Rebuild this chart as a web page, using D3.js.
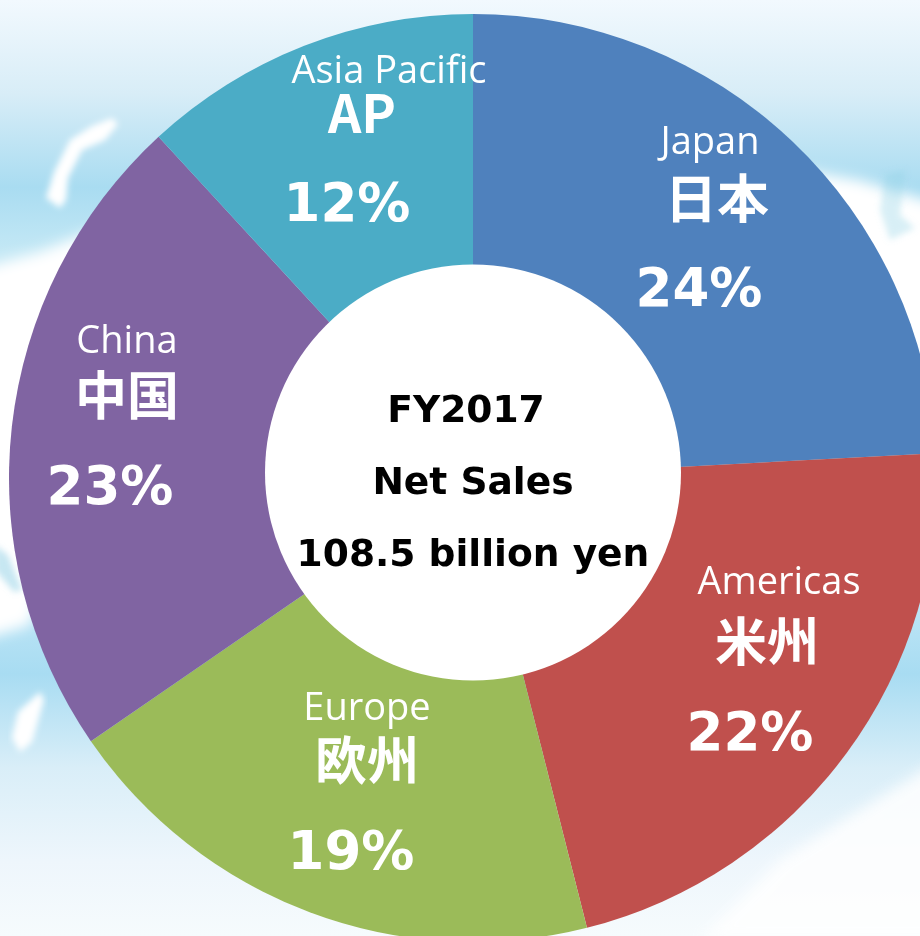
<!DOCTYPE html>
<html>
<head>
<meta charset="utf-8">
<script src="https://cdn.jsdelivr.net/npm/d3@7"></script>
<style>
html, body { margin: 0; padding: 0; background: #fff; }
svg { display: block; }
</style>
</head>
<body>
<div id="chart"></div>
<script>
var regions = ['日本', '米州', '欧州', '中国', 'AP'];
var regionsEn = ['Japan', 'Americas', 'Europe', 'China', 'Asia Pacific'];
// read from the slice edges, the labels show these rounded
var shares = [24.15, 21.9, 19.35, 22.75, 11.85];
var colors = ['#4f81bd', '#c0504d', '#9bbb59', '#8064a2', '#4bacc6'];
var centerLines = ['FY2017', 'Net Sales', '108.5 billion yen'];

// label placement, one row per region: en x/baseline, kanji x/baseline, percent x/baseline
var labelSpots = [
  [710, 154, 717, 218, 699, 306],
  [779, 594, 767, 661, 750, 750],
  [367, 720, 367, 780, 351, 869],
  [127, 353, 127, 415, 110, 504],
  [389, 83, 362, 133, 347, 221]
];
var centerSpots = [[466, 422], [473, 494], [473, 566]];

var width = 920, height = 936;
var cx = 473, cy = 478, outer = 464, inner = 208;

var svg = d3.select('#chart').append('svg')
  .attr('width', width)
  .attr('height', height);

var defs = svg.append('defs');
var sky = defs.append('linearGradient').attr('id', 'sky')
  .attr('x1', 0).attr('y1', 0).attr('x2', 0).attr('y2', 1);
[[0, '#f2f9fe'], [0.1, '#d8edf7'], [0.2, '#a9dcf1'], [0.27, '#c4e8f5'], [0.64, '#bfe6f6'],
 [0.72, '#a8dcf2'], [0.82, '#d9eef8'], [0.92, '#eef6fc'], [1, '#f6fbfd']].forEach(function(s) {
  sky.append('stop').attr('offset', s[0]).attr('stop-color', s[1]);
});
defs.append('filter').attr('id', 'soft').append('feGaussianBlur').attr('stdDeviation', 7);
defs.append('filter').attr('id', 'softer').append('feGaussianBlur').attr('stdDeviation', 3);

// map behind the pie, only a rough impression of the land
svg.append('rect').attr('width', width).attr('height', height).attr('fill', 'url(#sky)');

var land = svg.append('g').attr('fill', '#fff');
land.append('path')
  .attr('filter', 'url(#soft)')
  .attr('d', 'M-20,268 L40,252 L90,232 L160,200 L200,420 L130,600 L40,590 L30,625 L-20,640 Z');
land.append('path')
  .attr('filter', 'url(#soft)')
  .attr('d', 'M800,170 L860,180 L940,205 L940,420 L880,400 Z');
land.append('path')
  .attr('filter', 'url(#soft)')
  .attr('opacity', 0.85)
  .attr('d', 'M700,940 L780,860 L940,760 L940,940 Z');
land.append('path')
  .attr('filter', 'url(#softer)')
  .attr('d', 'M112,118 L118,124 L105,140 L82,150 L68,178 L66,200 L60,208 L46,198 L54,172 L70,140 L92,126 Z');
land.append('path')
  .attr('filter', 'url(#softer)')
  .attr('d', 'M40,692 L44,700 L32,742 L20,752 L12,738 L18,712 Z');

// inlets on the coast
var water = svg.append('g').attr('fill', '#8fd0e6').attr('filter', 'url(#softer)');
water.append('path').attr('opacity', 0.35).attr('d', 'M885,175 L905,170 L900,215 L915,228 L890,240 L880,210 Z');
water.append('path').attr('opacity', 0.5).attr('d', 'M-5,545 L8,555 L22,590 L14,592 L-5,570 Z');

var pie = d3.pie().sort(null).value(function(d) { return d; });
var arc = d3.arc().innerRadius(0).outerRadius(outer);
var arcs = pie(shares);

var g = svg.append('g').attr('transform', 'translate(' + cx + ',' + cy + ')');

g.selectAll('path.slice')
  .data(arcs)
  .enter().append('path')
  .attr('class', 'slice')
  .attr('d', arc)
  .attr('fill', function(d, i) { return colors[i]; });

svg.append('circle')
  .attr('cx', 473)
  .attr('cy', 472.5)
  .attr('r', inner)
  .attr('fill', '#fff');

var labels = svg.selectAll('g.label')
  .data(arcs)
  .enter().append('g')
  .attr('class', 'label')
  .attr('text-anchor', 'middle')
  .attr('fill', '#fff');

labels.append('text')
  .attr('x', function(d, i) { return labelSpots[i][0]; })
  .attr('y', function(d, i) { return labelSpots[i][1]; })
  .attr('font-family', '"Open Sans", "Noto Sans", sans-serif')
  .attr('font-weight', 400)
  .attr('font-size', 38)
  .text(function(d, i) { return regionsEn[i]; });

labels.append('text')
  .attr('x', function(d, i) { return labelSpots[i][2]; })
  .attr('y', function(d, i) { return labelSpots[i][3]; })
  .attr('font-family', '"Noto Sans CJK JP", sans-serif')
  .attr('font-weight', 700)
  .attr('font-size', 52)
  .text(function(d, i) { return regions[i]; });

labels.append('text')
  .attr('x', function(d, i) { return labelSpots[i][4]; })
  .attr('y', function(d, i) { return labelSpots[i][5]; })
  .attr('font-family', '"DejaVu Sans", sans-serif')
  .attr('font-weight', 700)
  .attr('font-size', 53)
  .text(function(d) { return Math.round(d.data) + '%'; });

svg.append('g').selectAll('text')
  .data(centerLines)
  .enter().append('text')
  .attr('x', function(d, i) { return centerSpots[i][0]; })
  .attr('y', function(d, i) { return centerSpots[i][1]; })
  .attr('text-anchor', 'middle')
  .attr('font-family', '"DejaVu Sans", sans-serif')
  .attr('font-weight', 700)
  .attr('font-size', 37.6)
  .attr('fill', '#000')
  .text(function(d) { return d; });
</script>
</body>
</html>
